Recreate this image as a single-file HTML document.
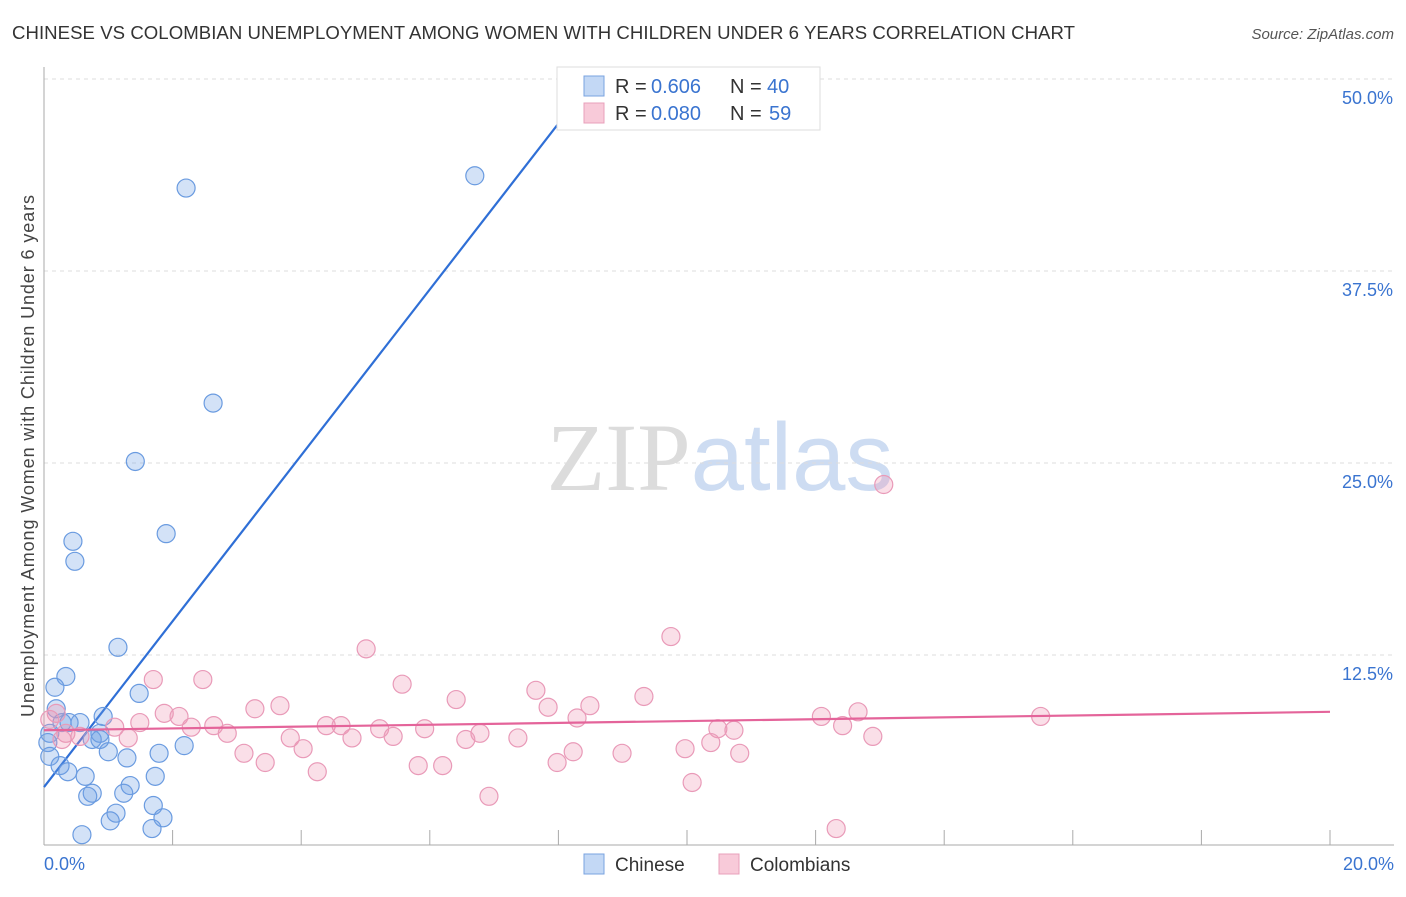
<!DOCTYPE html>
<html><head><meta charset="utf-8"><style>
body{margin:0;background:#fff;font-family:"Liberation Sans",sans-serif;}
svg text{font-family:"Liberation Sans",sans-serif;}
</style></head><body>
<svg id="chart" width="1406" height="892" xmlns="http://www.w3.org/2000/svg">
<text x="12" y="39" font-size="18.6" fill="#333" textLength="1063">CHINESE VS COLOMBIAN UNEMPLOYMENT AMONG WOMEN WITH CHILDREN UNDER 6 YEARS CORRELATION CHART</text>
<text x="1394" y="39" font-size="15" fill="#555" text-anchor="end" font-style="italic">Source: ZipAtlas.com</text>
<text x="720" y="490" font-size="96" text-anchor="middle"><tspan fill="#dcdcdc" font-family="Liberation Serif">ZIP</tspan><tspan fill="#cddcf2">atlas</tspan></text>
<text transform="translate(34,456) rotate(-90)" font-size="18" fill="#444" text-anchor="middle" textLength="522">Unemployment Among Women with Children Under 6 years</text>
<g id="grid"></g><g id="axes"></g><g id="lines"></g><g id="pts"></g>
<g>
<rect x="557" y="67" width="263" height="63" fill="#fff" stroke="#ddd"/>
<rect x="584" y="76" width="20" height="20" fill="#c3d8f5" stroke="#7aa3e0"/>
<rect x="584" y="103" width="20" height="20" fill="#f8cad9" stroke="#e8a0bb"/>
<text x="615" y="93" font-size="20" fill="#333">R =</text><text x="651" y="93" font-size="20" fill="#3a74d0">0.606</text>
<text x="730" y="93" font-size="20" fill="#333">N =</text><text x="767" y="93" font-size="20" fill="#3a74d0">40</text>
<text x="615" y="120" font-size="20" fill="#333">R =</text><text x="651" y="120" font-size="20" fill="#3a74d0">0.080</text>
<text x="730" y="120" font-size="20" fill="#333">N =</text><text x="769" y="120" font-size="20" fill="#3a74d0">59</text>
</g>
<g>
<rect x="584" y="854" width="20" height="20" fill="#c3d8f5" stroke="#7aa3e0"/>
<text x="615" y="871" font-size="19" fill="#333">Chinese</text>
<rect x="719" y="854" width="20" height="20" fill="#f8cad9" stroke="#e8a0bb"/>
<text x="750" y="871" font-size="19" fill="#333">Colombians</text>
</g>
</svg>
<script>
const yTicks=[12.5,25,37.5,50];
const yTickLabels=["12.5%","25.0%","37.5%","50.0%"];
const xTickLabels=["0.0%","20.0%"];
const chineseX=[2.21,6.70,2.63,1.42,1.90,0.45,0.48,1.15,0.34,0.17,1.48,0.19,0.92,0.28,0.56,0.39,0.09,0.87,0.75,0.06,2.18,1.00,1.79,0.09,1.29,0.25,0.37,0.64,1.73,1.34,1.24,0.75,0.68,1.70,1.12,1.03,1.85,1.68,0.59,0.87];
const chineseY=[42.9,43.7,28.9,25.1,20.4,19.9,18.6,13.0,11.1,10.4,10.0,9.0,8.5,8.1,8.1,8.1,7.4,7.4,7.0,6.8,6.6,6.2,6.1,5.9,5.8,5.3,4.9,4.6,4.6,4.0,3.5,3.5,3.3,2.7,2.2,1.7,1.9,1.2,0.8,7.0];
const colX=[13.06,9.75,5.01,2.47,1.70,5.57,7.65,6.41,9.33,3.28,3.67,7.84,8.49,12.66,12.09,15.50,1.87,2.10,8.29,1.49,0.19,1.10,2.29,2.64,4.39,4.62,5.22,5.92,10.48,10.73,12.42,2.85,0.34,0.56,0.28,3.83,1.31,4.79,5.43,6.78,6.56,7.37,12.89,4.03,3.11,9.97,10.37,8.23,8.99,10.82,3.44,5.82,6.20,7.98,4.25,10.08,6.92,12.32,0.09];
const colY=[23.6,13.7,12.9,10.9,10.9,10.6,10.2,9.6,9.8,9.0,9.2,9.1,9.2,8.8,8.5,8.5,8.7,8.5,8.4,8.1,8.7,7.8,7.8,7.9,7.9,7.9,7.7,7.7,7.7,7.6,7.9,7.4,7.4,7.2,7.0,7.1,7.1,7.1,7.2,7.4,7.0,7.1,7.2,6.4,6.1,6.4,6.8,6.2,6.1,6.1,5.5,5.3,5.3,5.5,4.9,4.2,3.3,1.2,8.3];
const chineseFit=[3.9,5.4];
const colFit=[7.6,0.06];
const NS="http://www.w3.org/2000/svg";
const X=v=>44+v/20*1286, Y=v=>847-v/12.5*192;
function mk(tag,attrs,parent){const e=document.createElementNS(NS,tag);for(const k in attrs)e.setAttribute(k,attrs[k]);document.getElementById(parent).appendChild(e);return e;}
yTicks.forEach((t,i)=>{
  const g=mk('line',{x1:44,x2:1394,y1:Y(t),y2:Y(t),stroke:'#ddd','stroke-dasharray':'4,4'},'grid');
  
  
  const l=mk('text',{x:1393,y:Y(t)+25,'font-size':18,fill:'#3a74d0','text-anchor':'end'},'grid');
  l.textContent=yTickLabels[i];
  
  
});
let a=mk('line',{x1:44,x2:44,y1:67,y2:845,stroke:'#aaa'},'axes');


a=mk('line',{x1:44,x2:1394,y1:845,y2:845,stroke:'#aaa'},'axes');


for(let i=0;i<=10;i++){const t=mk('line',{x1:X(i*2),x2:X(i*2),y1:830,y2:845,stroke:'#aaa'},'axes');
  
  }
[[0,'start',44],[20,'end',1394]].forEach((d,i)=>{const t=mk('text',{x:d[2],y:870,'font-size':18,fill:'#3a74d0','text-anchor':d[1]},'axes');t.textContent=xTickLabels[i];
  
  });
const x2=(50-chineseFit[0])/chineseFit[1];
let ln=mk('line',{x1:X(0),y1:Y(chineseFit[0]),x2:X(x2),y2:Y(50),stroke:'#2f6fd6','stroke-width':2.2},'lines');


chineseX.forEach((x,i)=>{const c=mk('circle',{cx:X(x),cy:Y(chineseY[i]),r:9,fill:'rgba(110,160,230,0.3)',stroke:'#6a9be0','stroke-width':1.2},'pts');
  
  });
colX.forEach((x,i)=>{const c=mk('circle',{cx:X(x),cy:Y(colY[i]),r:9,fill:'rgba(240,150,180,0.3)',stroke:'#e99ab8','stroke-width':1.2},'pts');
  
  });
ln=mk('line',{x1:X(0),y1:Y(colFit[0]),x2:X(20),y2:Y(colFit[0]+colFit[1]*20),stroke:'#e4649a','stroke-width':2.2},'pts');


</script>
</body></html>
